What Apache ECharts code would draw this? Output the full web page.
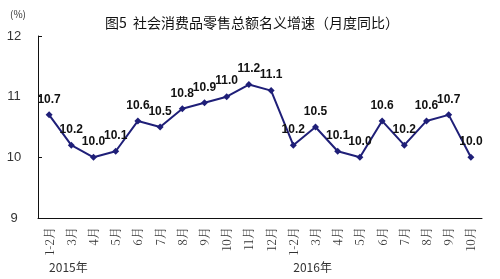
<!DOCTYPE html>
<html><head><meta charset="utf-8">
<script src="https://cdn.jsdelivr.net/npm/echarts@6/dist/echarts.min.js"></script>
<style>html,body{margin:0;padding:0;background:#fff}#c{width:500px;height:279px}</style>
</head><body><div id="c"></div>
<script>
const categories = ['1-2月','3月','4月','5月','6月','7月','8月','9月','10月','11月','12月','1-2月','3月','4月','5月','6月','7月','8月','9月','10月'];
const years = ['2015年','','','','','','','','','','','2016年','','','','','','','',''];
const values = [10.7,10.2,10.0,10.1,10.6,10.5,10.8,10.9,11.0,11.2,11.1,10.2,10.5,10.1,10.0,10.6,10.2,10.6,10.7,10.0];
const yTicks = [9,10,11,12];
const title = '图5  社会消费品零售总额名义增速（月度同比）';

const chart = echarts.init(document.getElementById('c'), null, {renderer:'canvas'});
chart.setOption({
  animation:false,
  backgroundColor:'#fff',
  title:{text:title,left:100,top:11,textStyle:{fontFamily:'Noto Sans CJK SC',fontSize:14,fontWeight:'normal',color:'#111'}},
  graphic:[{type:'text',left:10,top:9,style:{text:'(%)',font:'10px "Noto Sans CJK SC"',fill:'#333'}}],
  grid:{left:38,right:18,top:36,bottom:61},
  xAxis:[{
    type:'category',data:categories,boundaryGap:true,
    axisLine:{lineStyle:{color:'#111',width:1}},
    axisTick:{inside:true,length:4,lineStyle:{color:'#111'}},
    axisLabel:{rotate:90,interval:0,margin:9,fontFamily:'Noto Serif CJK SC, Liberation Serif, serif',fontSize:12,color:'#333'}
  },{
    type:'category',data:years,position:'bottom',offset:35,boundaryGap:true,
    axisLine:{show:false},axisTick:{show:false},
    axisLabel:{interval:0,align:'left',fontFamily:'Noto Sans CJK SC',fontSize:12,color:'#333'}
  }],
  yAxis:{
    type:'value',min:yTicks[0],max:yTicks[yTicks.length-1],interval:1,
    axisLine:{show:true,lineStyle:{color:'#111',width:1}},
    axisTick:{show:true,inside:true,length:4,lineStyle:{color:'#111'}},
    splitLine:{show:false},
    axisLabel:{align:'center',margin:24,fontFamily:'Liberation Sans',fontSize:13,color:'#333'}
  },
  series:[{
    type:'line',data:values,xAxisIndex:0,
    symbol:'diamond',symbolSize:7,
    lineStyle:{color:'#1f1f78',width:2},
    itemStyle:{color:'#1f1f78'},
    label:{show:true,position:'top',distance:6,formatter:p=>p.value.toFixed(1),fontFamily:'Liberation Sans',fontWeight:'bold',fontSize:12,color:'#111'}
  }]
});
</script></body></html>
